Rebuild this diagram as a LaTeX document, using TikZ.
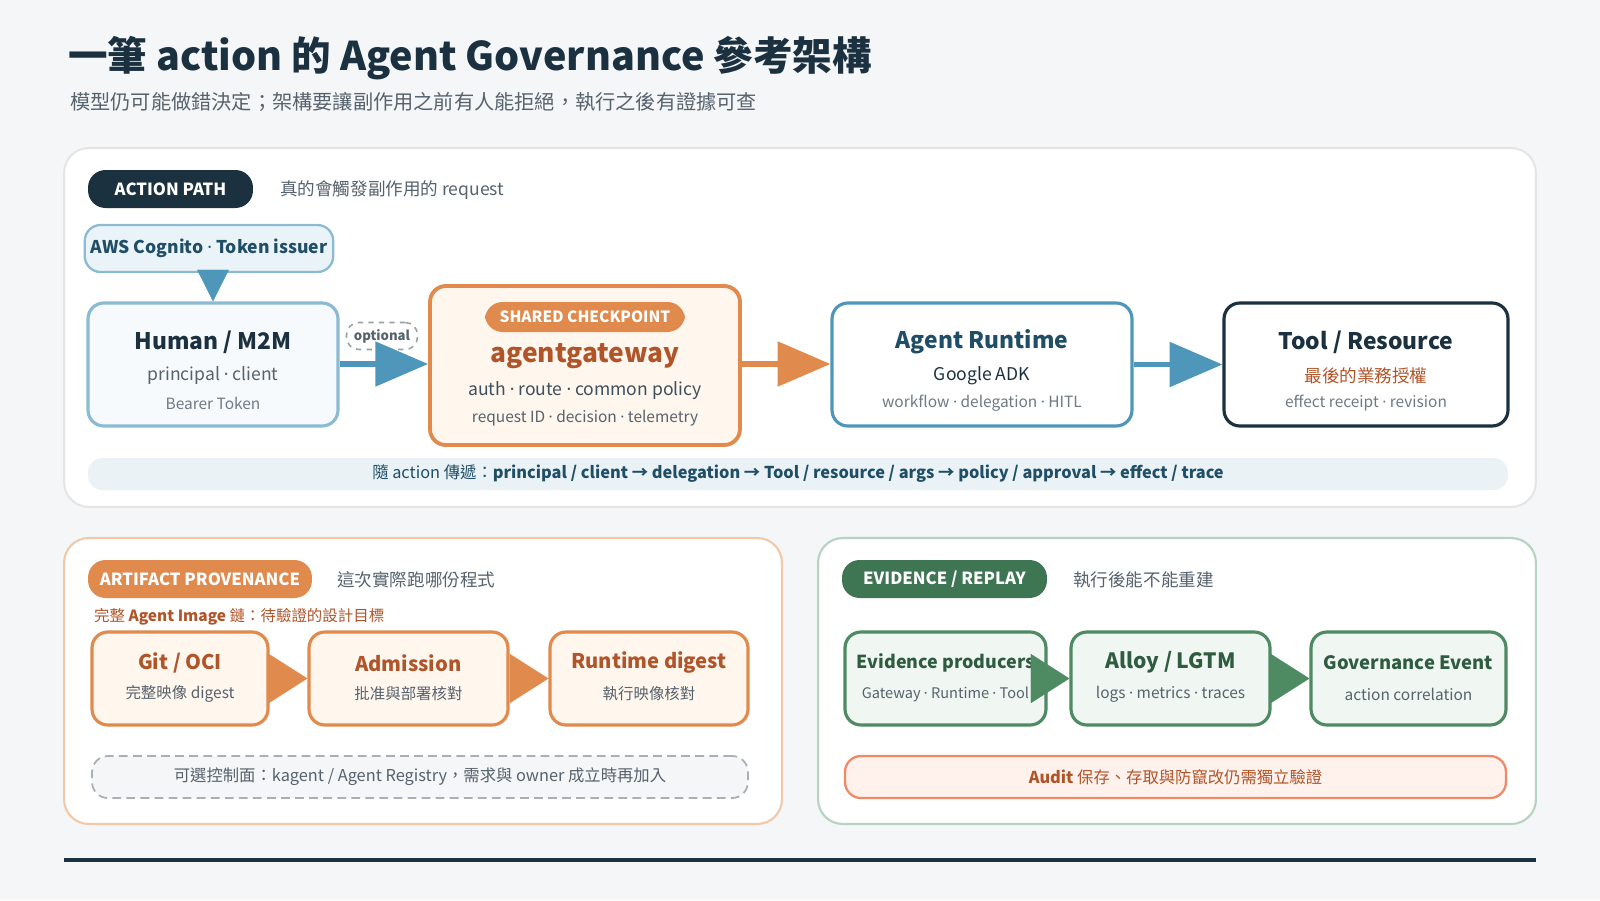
\documentclass[tikz,border=0pt]{standalone}
\usepackage{fontspec}
\setmainfont{Noto Sans CJK TC}
\newfontfamily\latinf{Noto Sans}
\newcommand\dt{{\latinf\mdseries ·}}
\usepackage{xcolor}
\usetikzlibrary{arrows.meta, positioning}

\definecolor{navy}{HTML}{1B3140}
\definecolor{bgpage}{HTML}{F4F6F8}
\definecolor{inkgray}{HTML}{56626C}
\definecolor{softgray}{HTML}{6F7A83}
\definecolor{blueln}{HTML}{8BBBD3}
\definecolor{bluemid}{HTML}{4E96BA}
\definecolor{bluefill}{HTML}{EAF3F8}
\definecolor{bluetext}{HTML}{1F4E66}
\definecolor{orangeln}{HTML}{E08A4E}
\definecolor{orangefill}{HTML}{FFF6EE}
\definecolor{orangetext}{HTML}{B0552A}
\definecolor{peachln}{HTML}{F2C9A8}
\definecolor{greenln}{HTML}{4E8A62}
\definecolor{greendark}{HTML}{3E7553}
\definecolor{greenfill}{HTML}{F0F6F1}
\definecolor{greentext}{HTML}{2F5C40}
\definecolor{mintln}{HTML}{B5D3C0}
\definecolor{auditln}{HTML}{EE8A68}
\definecolor{auditfill}{HTML}{FFF1EC}
\definecolor{tracefill}{HTML}{EAF2F6}

\begin{document}
\begin{tikzpicture}[
x=0.02cm, y=-0.02cm,
panel/.style={rectangle, rounded corners=14pt, draw, line width=1.2pt, fill=white},
pill/.style={rectangle, rounded corners=10pt, text=white, font=\bfseries\fontsize{9.5}{11}\selectfont, inner sep=0pt},
box/.style={rectangle, rounded corners=9pt, draw, line width=1.8pt},
note/.style={font=\fontsize{10}{12}\selectfont, text=inkgray, anchor=west},
head/.style={font=\bfseries\fontsize{13}{15}\selectfont},
sub/.style={font=\fontsize{10}{12}\selectfont},
tiny/.style={font=\fontsize{8.8}{10}\selectfont, text=softgray},
bigarrow/.style={line width=3pt, -{Triangle[length=30pt, width=25pt]}},
tiponly/.style={line width=0.2pt, -{Triangle[length=22pt, width=28pt]}}
]

\fill[bgpage] (0,0) rectangle (1600,900);

% title
\node[anchor=base west, font=\bfseries\fontsize{22.5}{27}\selectfont, text=navy] (title) at (62,70) {一筆 action 的 Agent Governance 參考架構};
\node[anchor=base west, font=\fontsize{11.5}{14}\selectfont, text=inkgray] (subtitle) at (64,109) {模型仍可能做錯決定；架構要讓副作用之前有人能拒絕，執行之後有證據可查};

% panels
\node[panel, draw=black!10, minimum width=29.44cm, minimum height=7.18cm] (actionpanel) at (800,327.5) {};
\node[panel, draw=peachln, minimum width=14.36cm, minimum height=5.72cm] (artpanel) at (423,681) {};
\node[panel, draw=mintln, minimum width=14.36cm, minimum height=5.72cm] (evipanel) at (1177,681) {};

% action path
\node[pill, fill=navy, minimum width=3.3cm, minimum height=0.76cm] (actiontag) at (170.5,189) {ACTION PATH};
\node[note] (actionnote) at (274,190) {真的會觸發副作用的 request};

\node[box, line width=1.3pt, draw=blueln, fill=bluefill, minimum width=4.84cm, minimum height=0.94cm, font=\bfseries\fontsize{10}{12}\selectfont, text=bluetext] (cognito) at (209,248.5) {AWS Cognito \dt{} Token issuer};

\node[box, draw=blueln, fill=white!60!bluefill, minimum width=5cm, minimum height=2.46cm] (human) at (213,364.5) {};
\node[head, text=navy] (humanhead) at (213,342) {Human / M2M};
\node[sub, text=inkgray] (humansub) at (213,376) {principal \dt{} client};
\node[tiny] (humantiny) at (213,403) {Bearer Token};

\node[box, draw=orangeln, fill=orangefill, line width=2.2pt, minimum width=6.2cm, minimum height=3.18cm] (gateway) at (585,365.5) {};
\node[pill, fill=orangeln, minimum width=4cm, minimum height=0.6cm, font=\bfseries\fontsize{8.8}{10}\selectfont] (checktag) at (585,317) {SHARED CHECKPOINT};
\node[font=\bfseries\fontsize{15}{18}\selectfont, text=orangetext] (gatehead) at (585,356) {agentgateway};
\node[sub, text=navy!85] (gatesub) at (585,391) {auth \dt{} route \dt{} common policy};
\node[tiny, text=inkgray] (gatetiny) at (585,418) {request ID \dt{} decision \dt{} telemetry};

\node[box, draw=bluemid, fill=white, minimum width=6cm, minimum height=2.46cm] (runtime) at (982,364.5) {};
\node[head, text=bluetext] (runhead) at (982,342) {Agent Runtime};
\node[sub, text=navy] (runsub) at (982,376) {Google ADK};
\node[tiny] (runtiny) at (982,403) {workflow \dt{} delegation \dt{} HITL};

\node[box, draw=navy, fill=white, minimum width=5.68cm, minimum height=2.46cm] (tool) at (1366,364.5) {};
\node[head, text=navy] (toolhead) at (1366,342) {Tool / Resource};
\node[sub, text=orangetext] (toolsub) at (1366,376) {最後的業務授權};
\node[tiny] (tooltiny) at (1366,403) {effect receipt \dt{} revision};

\node[rectangle, rounded corners=8pt, fill=tracefill, minimum width=28.4cm, minimum height=0.64cm, font=\fontsize{9.3}{11}\selectfont, text=bluetext] (trace) at (798,474) {隨 action 傳遞：\textbf{principal / client → delegation → Tool / resource / args → policy / approval → effect / trace}};

\node[rectangle, rounded corners=7pt, draw=softgray!70, dashed, line width=0.9pt, fill=white, minimum width=1.42cm, minimum height=0.54cm, font=\bfseries\fontsize{7.5}{9}\selectfont, text=inkgray, inner sep=0pt] (optional) at (382,336) {optional};

\draw[bluemid, line width=0.2pt, -{Triangle[length=18pt, width=18pt]}] ([yshift=18pt]human.north) -- (human.north);
\draw[bigarrow, bluemid] (human.east |- 0,364) -- (gateway.west |- 0,364);
\draw[bigarrow, orangeln] (gateway.east |- 0,364) -- (runtime.west |- 0,364);
\draw[bigarrow, bluemid] (runtime) -- (tool);

% artifact provenance
\node[pill, fill=orangeln, minimum width=4.48cm, minimum height=0.76cm] (arttag) at (200,579) {ARTIFACT PROVENANCE};
\node[note] (artnote) at (331,580) {這次實際跑哪份程式};
\node[anchor=west, font=\fontsize{8.8}{10}\selectfont, text=orangetext] (artgoal) at (88,617) {完整 \textbf{Agent Image} 鏈：待驗證的設計目標};

\node[box, draw=orangeln, fill=orangefill, minimum width=3.52cm, minimum height=1.86cm] (git) at (180,678.5) {};
\node[head, font=\bfseries\fontsize{11.5}{13}\selectfont, text=orangetext] (githead) at (180,663) {Git / OCI};
\node[tiny, text=inkgray] (gittiny) at (180,694) {完整映像 digest};
\node[box, draw=orangeln, fill=orangefill, minimum width=3.98cm, minimum height=1.86cm] (admit) at (408.5,678.5) {};
\node[head, font=\bfseries\fontsize{11.5}{13}\selectfont, text=orangetext] (admithead) at (408.5,663) {Admission};
\node[tiny, text=inkgray] (admittiny) at (408.5,694) {批准與部署核對};
\node[box, draw=orangeln, fill=orangefill, minimum width=3.96cm, minimum height=1.86cm] (digest) at (649,678.5) {};
\node[head, font=\bfseries\fontsize{11.5}{13}\selectfont, text=orangetext] (digesthead) at (649,663) {Runtime digest};
\node[tiny, text=inkgray] (digesttiny) at (649,694) {執行映像核對};

\draw[tiponly, orangeln] ([xshift=-22pt]admit.west) -- (admit.west);
\draw[tiponly, orangeln] ([xshift=-22pt]digest.west) -- (digest.west);

\node[rectangle, rounded corners=9pt, draw=softgray!60, dashed, dash pattern=on 5pt off 3pt, line width=1pt, fill=bgpage, minimum width=13.12cm, minimum height=0.84cm, font=\fontsize{9.3}{11}\selectfont, text=inkgray] (registry) at (420,777) {可選控制面：kagent / Agent Registry，需求與 owner 成立時再加入};

% evidence / replay
\node[pill, fill=greendark, minimum width=4.1cm, minimum height=0.76cm] (evitag) at (944.5,579) {EVIDENCE / REPLAY};
\node[note] (evinote) at (1067,580) {執行後能不能重建};

\node[box, draw=greenln, fill=greenfill, minimum width=4.02cm, minimum height=1.86cm] (producers) at (945.5,678.5) {};
\node[font=\bfseries\fontsize{10.2}{12}\selectfont, text=greentext] (prodhead) at (945.5,663) {Evidence producers};
\node[tiny, text=inkgray, font=\fontsize{8.3}{10}\selectfont] (prodtiny) at (945.5,694) {Gateway \dt{} Runtime \dt{} Tool};
\node[box, draw=greenln, fill=greenfill, minimum width=3.98cm, minimum height=1.86cm] (alloy) at (1170.5,678.5) {};
\node[head, font=\bfseries\fontsize{12}{14}\selectfont, text=greentext] (alloyhead) at (1170.5,662) {Alloy / LGTM};
\node[tiny, text=inkgray] (alloytiny) at (1170.5,694) {logs \dt{} metrics \dt{} traces};
\node[box, draw=greenln, fill=greenfill, minimum width=3.9cm, minimum height=1.86cm] (govevent) at (1408.5,678.5) {};
\node[font=\bfseries\fontsize{10.5}{12}\selectfont, text=greentext] (govhead) at (1408.5,663) {Governance Event};
\node[tiny, text=inkgray] (govtiny) at (1408.5,694) {action correlation};

\draw[tiponly, greenln] ([xshift=-22pt]alloy.west) -- (alloy.west);
\draw[tiponly, greenln] ([xshift=-22pt]govevent.west) -- (govevent.west);

\node[rectangle, rounded corners=9pt, draw=auditln, line width=1.3pt, fill=auditfill, minimum width=13.22cm, minimum height=0.84cm, font=\fontsize{9.3}{11}\selectfont, text=orangetext] (audit) at (1175.5,777) {\textbf{Audit} 保存、存取與防竄改仍需獨立驗證};

% footer rule
\coordinate (ruleleft) at (64,860);
\coordinate (ruleright) at (1536,860);
\draw[navy, line width=2.4pt] (ruleleft) -- (ruleright);

\end{tikzpicture}
\end{document}
